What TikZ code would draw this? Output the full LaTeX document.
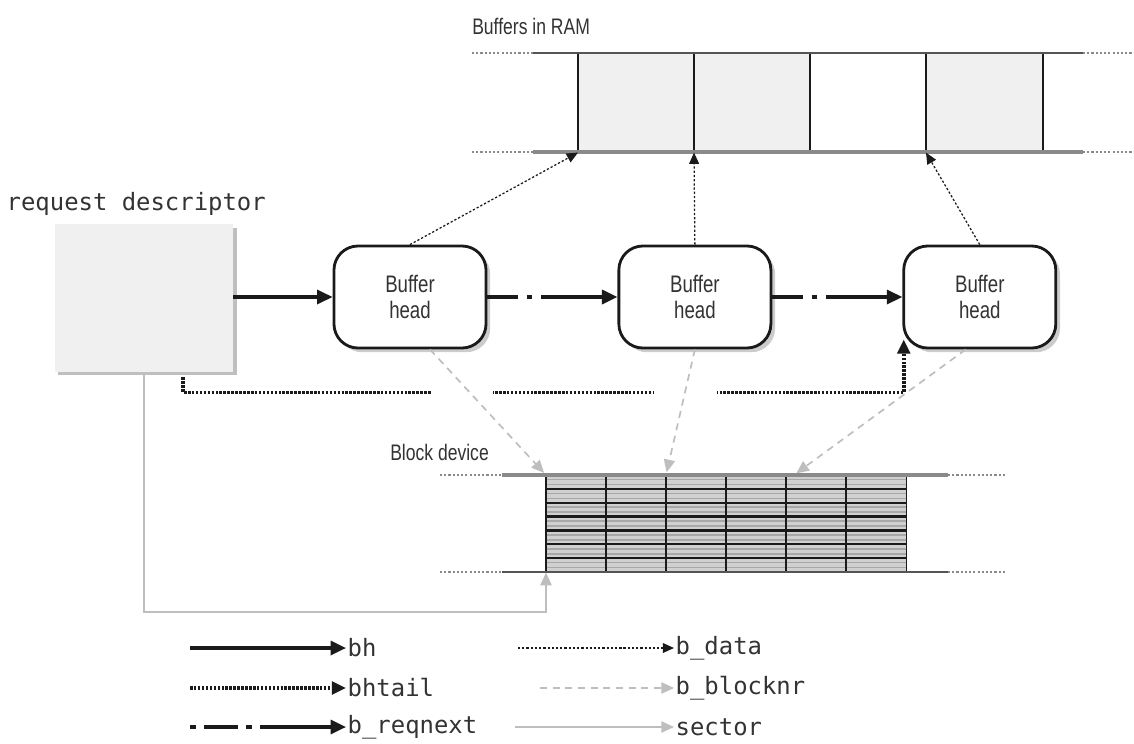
\documentclass[tikz,border=0pt]{standalone}
\usepackage{fontspec}
\setmainfont{Liberation Sans}
\setmonofont{DejaVu Sans Mono}
\newfontfamily\condsans[FakeStretch=0.78]{Liberation Sans}
\usepackage{tikz}
\usetikzlibrary{arrows.meta,positioning,calc,shadows}
\definecolor{bdink}{HTML}{1A1A1A}
\definecolor{bdtext}{HTML}{333333}
\definecolor{bdfill}{HTML}{F0F0F0}
\definecolor{bdline}{HTML}{555555}
\definecolor{bdmid}{HTML}{8A8A8A}
\definecolor{bdlight}{HTML}{BEBEBE}
\definecolor{bdstripe}{HTML}{A8A8A8}
\definecolor{bdband}{HTML}{D0D0D0}
\tikzset{
  descBox/.style={fill=bdfill, minimum width=4.45cm, minimum height=3.675cm, inner sep=0pt, drop shadow={shadow xshift=2.5pt, shadow yshift=-2.5pt, fill=black, opacity=0.25}},
  headBox/.style={draw=bdink, line width=2pt, fill=white, rounded corners=0.6cm, minimum width=3.8cm, minimum height=2.55cm, align=center, text=bdtext, font=\condsans\fontsize{17}{19}\selectfont, drop shadow={shadow xshift=3pt, shadow yshift=-3pt, fill=black, opacity=0.2}},
  ramCell/.style={minimum width=2.9cm, minimum height=2.475cm, inner sep=0pt},
  blkCell/.style={minimum width=1.5cm, minimum height=2.425cm, inner sep=0pt, fill=bdband},
  ramSide/.style={draw=bdink, line width=1.3pt},
  ramEdge/.style={draw=bdline, line width=1.6pt},
  edgeDots/.style={draw=bdmid, line width=1.2pt, dash pattern=on 1.5pt off 1.5pt},
  titleLabel/.style={font=\condsans\fontsize{16}{18}\selectfont, text=bdtext, inner sep=0pt},
  monoLabel/.style={font=\ttfamily\fontsize{17}{20}\selectfont, text=bdtext, inner sep=1pt},
  bhArrow/.style={-{Triangle[length=11pt,width=10pt]}, line width=2.2pt, draw=bdink},
  reqnextArrow/.style={-{Triangle[length=11pt,width=10pt]}, line width=2.2pt, draw=bdink, dash pattern=on 22pt off 6pt on 4pt off 6pt on 80pt off 0pt},
  tailArrow/.style={-{Triangle[length=10pt,width=9pt]}, line width=2.6pt, draw=bdink, dash pattern=on 1.8pt off 1pt},
  dataArrow/.style={-{Triangle[length=8pt,width=7pt]}, line width=0.9pt, draw=bdink, dash pattern=on 1.6pt off 1.4pt},
  blocknrArrow/.style={-{Triangle[length=9pt,width=8pt]}, line width=1.2pt, draw=bdlight, dash pattern=on 5pt off 4pt, shorten >=2pt},
  sectorArrow/.style={-{Triangle[length=9pt,width=8pt]}, line width=1.1pt, draw=bdlight}
}
\begin{document}
\begin{tikzpicture}[x=0.025cm,y=-0.025cm]
  \useasboundingbox (0,0) rectangle (1134,744);
  % buffers in RAM
  \node[titleLabel, anchor=base west] (ramTitle) at (472,34) {Buffers in RAM};
  \foreach \i/\x/\c in {1/578/bdfill,2/694/bdfill,3/810/white,4/926/bdfill}
    \node[ramCell, fill=\c, anchor=north west] (ram\i) at (\x,53) {};
  \foreach \i in {1,...,4}
    \draw[ramSide] (ram\i.north west) -- (ram\i.south west);
  \draw[ramSide] (ram4.north east) -- (ram4.south east);
  \draw[ramEdge] (533,53) -- (1083,53);
  \draw[ramEdge, draw=bdmid, line width=2.4pt] (533,152) -- (1083,152);
  \foreach \y in {53,152} {
    \draw[edgeDots] (472,\y) -- (533,\y);
    \draw[edgeDots] (1083,\y) -- (1134,\y);
  }
  % request descriptor and buffer heads
  \node[descBox] (req) at (144,298) {};
  \node[monoLabel, anchor=base west] (reqTitle) at (5,210) {request descriptor};
  \node[headBox] (bh1) at (410,297) {Buffer\\head};
  \node[headBox, right=3.25cm of bh1] (bh2) {Buffer\\head};
  \node[headBox, right=3.25cm of bh2] (bh3) {Buffer\\head};
  \draw[bhArrow] (req.east |- bh1.west) -- (bh1.west);
  \draw[reqnextArrow] (bh1.east) -- (bh2.west);
  \draw[reqnextArrow] (bh2.east) -- (bh3.west);
  \draw[dataArrow] (bh1.north) -- (ram1.south west);
  \draw[dataArrow] (bh2.north) -- (ram2.south west);
  \draw[dataArrow] (bh3.north) -- (ram4.south west);
  \draw[tailArrow] ([xshift=-1.25cm,yshift=-4pt]req.south east) -- ++(0,15) -| ([xshift=1pt,yshift=7pt]bh3.south west);
  \fill[white] (432,384) rectangle (493,401);
  \fill[white] (654,384) rectangle (717,401);
  % block device
  \node[titleLabel, anchor=base west] (blkTitle) at (390,460) {Block device};
  \foreach \i/\x in {1/546,2/606,3/666,4/726,5/786,6/846}
    \node[blkCell, anchor=north west] (blk\i) at (\x,475) {};
  \foreach \k in {0,...,6} {
    \draw[bdstripe, line width=1.1pt] (546,479.5+\k*13.86) -- (906,479.5+\k*13.86);
    \draw[bdstripe, line width=1.1pt] (546,484.5+\k*13.86) -- (906,484.5+\k*13.86);
  }
  \foreach \k in {1,...,6}
    \draw[bdink, line width=1.6pt] (546,475+\k*13.86) -- (906,475+\k*13.86);
  \foreach \i in {1,...,6}
    \draw[ramSide] (blk\i.north west) -- (blk\i.south west);
  \draw[ramSide] (blk6.north east) -- (blk6.south east);
  \draw[ramEdge, draw=bdmid, line width=2.2pt] (502,475) -- (948,475);
  \draw[ramEdge, line width=2pt] (502,572) -- (948,572);
  \foreach \y in {475,572} {
    \draw[edgeDots] (440,\y) -- (502,\y);
    \draw[edgeDots] (948,\y) -- (1005,\y);
  }
  \draw[blocknrArrow] ([xshift=0.5cm]bh1.south) -- (blk1.north west);
  \draw[blocknrArrow] (bh2.south) -- (blk3.north west);
  \draw[blocknrArrow] ([xshift=-0.35cm]bh3.south) -- ([xshift=0.2cm]blk5.north west);
  \coordinate (secBend) at (147,612);
  \draw[sectorArrow] (req.south) -- (req.south |- secBend) -| (blk1.south west);
  % legend
  \coordinate (lgBh) at (190,648);
  \coordinate (lgTail) at (190,688);
  \coordinate (lgNext) at (190,727);
  \coordinate (lgData) at (518,648);
  \coordinate (lgBlock) at (540,688);
  \coordinate (lgSector) at (515,727);
  \node[monoLabel, anchor=west] (lbBh) at (346,648) {bh};
  \node[monoLabel, anchor=west] (lbTail) at (346,688) {bhtail};
  \node[monoLabel, anchor=west] (lbNext) at (346,727) {b\_reqnext};
  \node[monoLabel, anchor=west] (lbData) at (674,648) {b\_data};
  \node[monoLabel, anchor=west] (lbBlock) at (674,688) {b\_blocknr};
  \node[monoLabel, anchor=west] (lbSector) at (674,727) {sector};
  \draw[bhArrow] (lgBh) -- (lbBh.west);
  \draw[tailArrow] (lgTail) -- (lbTail.west);
  \draw[reqnextArrow, dash pattern=on 4pt off 6pt on 24pt off 6pt on 4pt off 6pt on 80pt off 0pt] (lgNext) -- (lbNext.west);
  \draw[dataArrow] (lgData) -- (lbData.west);
  \draw[blocknrArrow, shorten >=0pt] (lgBlock) -- (lbBlock.west);
  \draw[sectorArrow] (lgSector) -- (lbSector.west);
\end{tikzpicture}
\end{document}
